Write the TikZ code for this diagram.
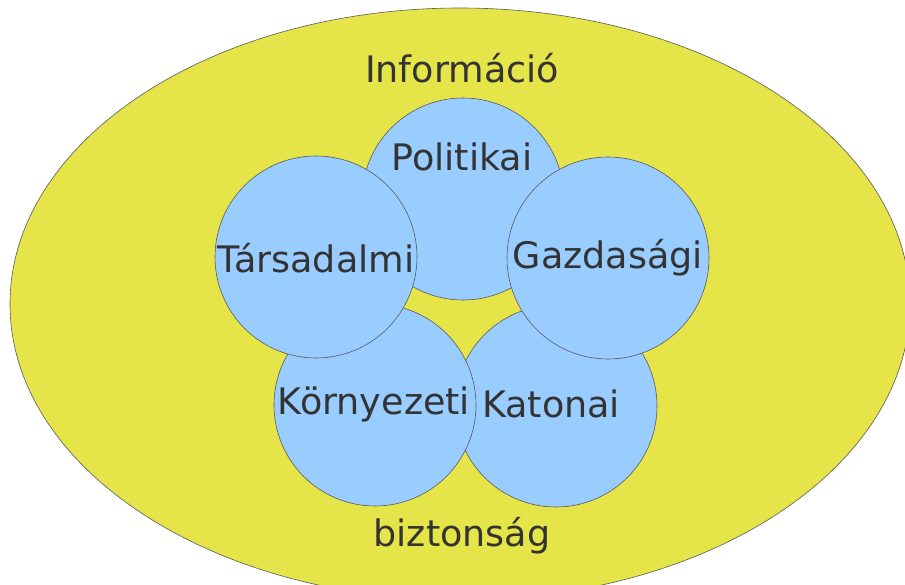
\documentclass[tikz,border=0pt]{standalone}
\usepackage{fontspec}
\setmainfont{DejaVu Sans}
\usetikzlibrary{shapes.geometric}
\definecolor{ellfill}{HTML}{E5E449}
\definecolor{circfill}{HTML}{99CCFF}
\definecolor{edge}{HTML}{5A5A5A}
\definecolor{txt}{HTML}{333333}
\begin{document}
\begin{tikzpicture}[x=1pt,y=-1pt,
  area/.style={circle, draw=edge, line width=0.6pt, fill=circfill, minimum size=202pt, inner sep=0pt},
  lbl/.style={text=txt, font=\fontsize{36.5}{36.5}\selectfont, inner sep=0pt}]
\useasboundingbox (0,0) rectangle (905,585);
\node[ellipse, draw=edge, line width=0.6pt, fill=ellfill, minimum width=900pt, minimum height=592pt, inner sep=0pt] (outer) at (460,304) {};
\node[area] (pol) at (463,199) {};
\node[area] (kat) at (556,406) {};
\node[area] (kor) at (375,405) {};
\node[area] (tar) at (316,257) {};
\node[area] (gaz) at (608,258) {};
\node[lbl] (info) at (462,68) {Információ};
\node[lbl] (biz) at (462,536) {biztonság};
\node[lbl] (tpol) at (462,157) {Politikai};
\node[lbl] (ttar) at (316,258) {Társadalmi};
\node[lbl] (tgaz) at (608,258) {Gazdasági};
\node[lbl] (tkor) at (374,404) {Környezeti};
\node[lbl] (tkat) at (551,404) {Katonai};
\end{tikzpicture}
\end{document}
